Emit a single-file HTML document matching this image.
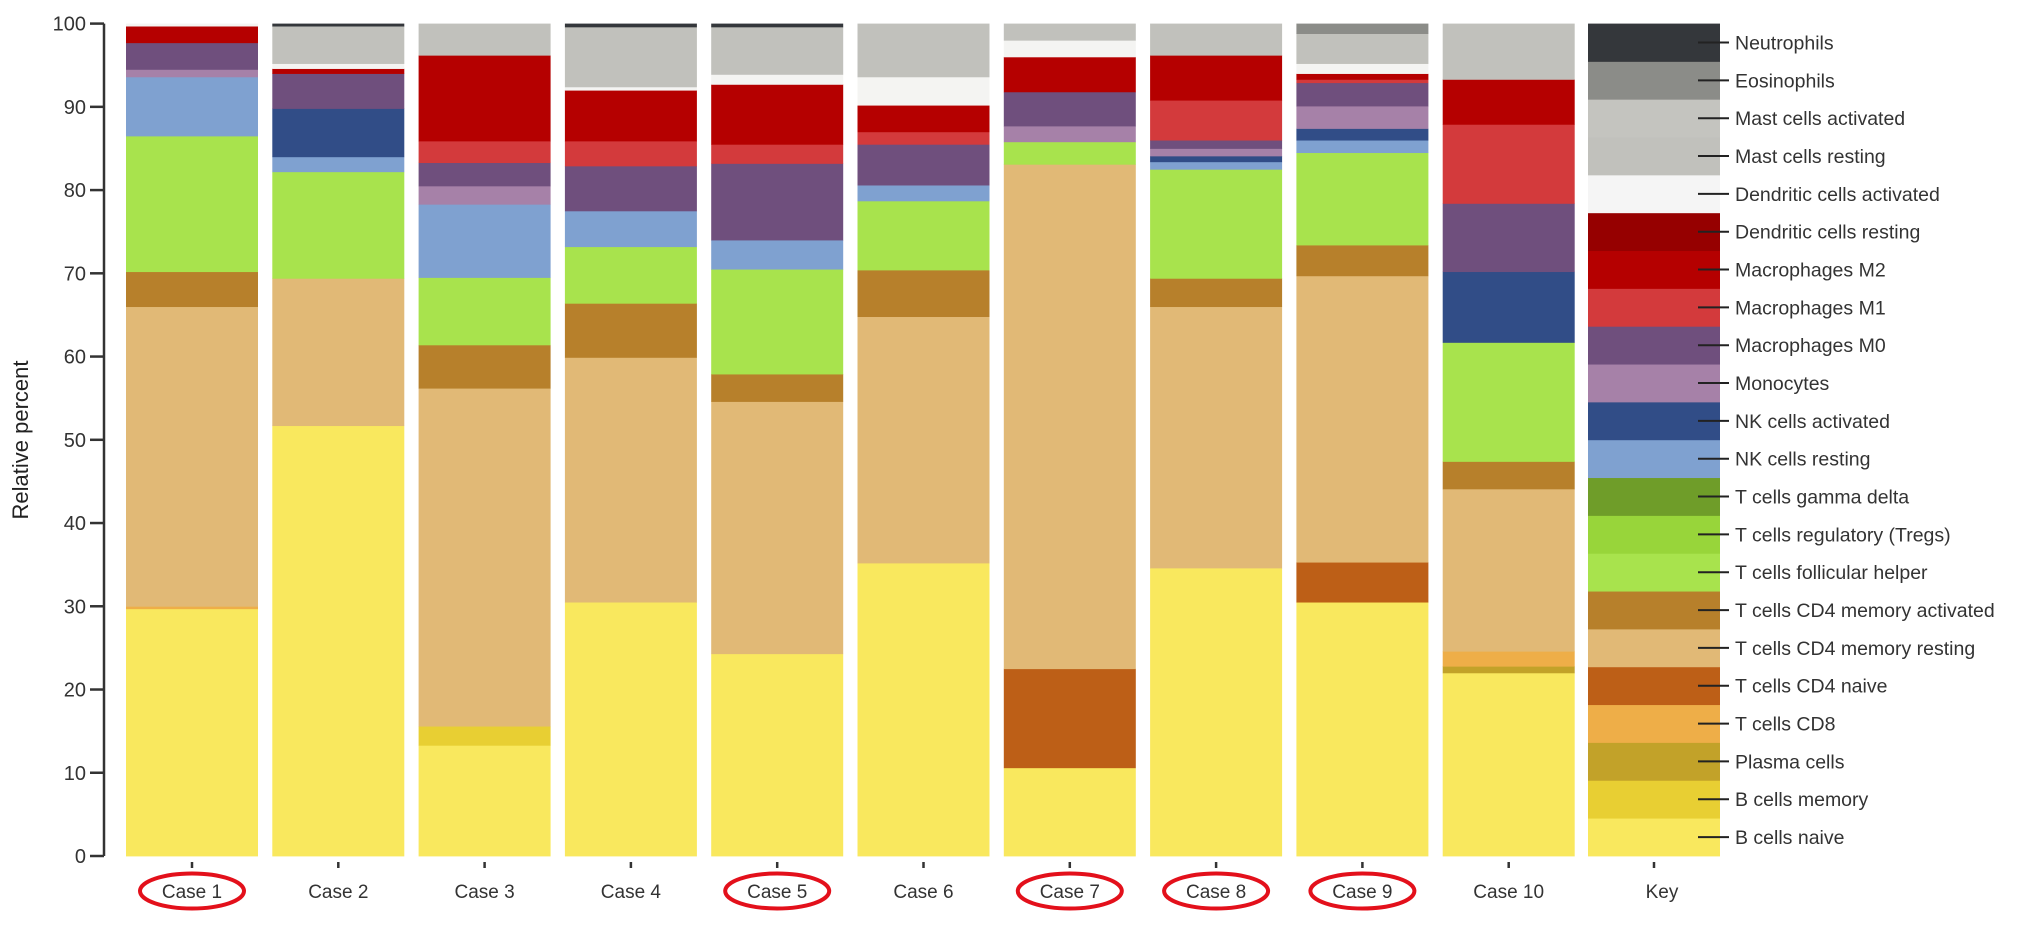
<!DOCTYPE html>
<html><head><meta charset="utf-8"><style>
html,body{margin:0;padding:0;background:#fff;}
svg{display:block;font-family:"Liberation Sans",Arial,sans-serif;}
</style></head><body>
<svg id="chart" width="2031" height="926" viewBox="0 0 2031 926" xmlns="http://www.w3.org/2000/svg"></svg>
<script>
const categories = ["Case 1","Case 2","Case 3","Case 4","Case 5","Case 6","Case 7","Case 8","Case 9","Case 10"];
const highlighted = [true,false,false,false,true,false,true,true,true,false];
const cellTypes = ["B cells naive","B cells memory","Plasma cells","T cells CD8","T cells CD4 naive","T cells CD4 memory resting","T cells CD4 memory activated","T cells follicular helper","T cells regulatory (Tregs)","T cells gamma delta","NK cells resting","NK cells activated","Monocytes","Macrophages M0","Macrophages M1","Macrophages M2","Dendritic cells resting","Dendritic cells activated","Mast cells resting","Mast cells activated","Eosinophils","Neutrophils"];
const cellColors = ["#f9e85e","#e8cf33","#c2a229","#eeae48","#bd5f17","#e1b976","#b7802b","#a8e34d","#98d53a","#6f9d29","#7fa1d0","#314d87","#a681a8","#6f4f7d","#d33a3c","#b50000","#960000","#f4f4f2","#c1c1bc","#c4c4bf","#8b8c88","#34373b"];
// values per case in order of cellTypes (percent)
const case1  = [29.7,0,0,0.3,0,36.0,4.2,16.3,0,0,7.1,0,0.9,3.2,0,2.0,0,0.3,0,0,0,0];
const case2  = [51.7,0,0,0,0,17.7,0,12.8,0,0,1.8,5.8,0,4.2,0,0.6,0,0.6,4.5,0,0,0.3];
const case3  = [13.3,2.3,0,0,0,40.6,5.2,8.1,0,0,8.8,0,2.2,2.8,2.6,10.3,0,0,3.8,0,0,0];
const case4  = [30.5,0,0,0,0,29.4,6.5,6.8,0,0,4.3,0,0,5.4,3.0,6.1,0,0.4,7.2,0,0,0.4];
const case5  = [24.3,0,0,0,0,30.3,3.3,12.6,0,0,3.5,0,0,9.2,2.3,7.2,0,1.2,5.7,0,0,0.4];
const case6  = [35.2,0,0,0,0,29.6,5.6,8.3,0,0,1.9,0,0,4.9,1.5,3.2,0,3.4,6.4,0,0,0];
const case7  = [10.6,0,0,0,11.9,60.6,0,2.7,0,0,0,0,1.9,4.1,0,4.2,0,2.0,2.0,0,0,0];
const case8  = [34.6,0,0,0,0,31.4,3.4,13.1,0,0,0.9,0.7,0.9,1.0,4.8,5.4,0,0,3.8,0,0,0];
const case9  = [30.5,0,0,0,4.8,34.4,3.7,11.1,0,0,1.5,1.4,2.7,2.8,0.4,0.7,0,1.2,3.6,0,1.2,0];
const case10 = [22.0,0,0.8,1.8,0,19.5,3.3,14.3,0,0,0,8.5,0,8.2,9.5,5.4,0,0,6.7,0,0,0];
const seriesValues = [case1,case2,case3,case4,case5,case6,case7,case8,case9,case10];
const yTicks = [0,10,20,30,40,50,60,70,80,90,100];

const NS = "http://www.w3.org/2000/svg";
const svg = document.getElementById("chart");
const y0 = 856, y100 = 23.6;
function yScale(v){ return y0 - (v/100)*(y0-y100); }
const barLeft0 = 126, pitch = 146.3, barW = 132;
function xScale(i){ return barLeft0 + i*pitch; }
function mk(tag, attrs, parent){
  const e = document.createElementNS(NS, tag);
  for (const k in attrs) e.setAttribute(k, attrs[k]);
  (parent||svg).appendChild(e);
  return e;
}

// y axis
const axis = mk("g", {});


mk("line", {x1:104, y1:yScale(100), x2:104, y2:y0, stroke:"#333", "stroke-width":2.5}, axis);
yTicks.forEach(t => {
  const y = yScale(t);
  mk("line", {x1:90, y1:y, x2:104, y2:y, stroke:"#333", "stroke-width":2.5}, axis);
  const tx = mk("text", {x:86, y:y+7, "text-anchor":"end", "font-size":20, fill:"#333"}, axis);
  tx.textContent = t;
  
  
});
const yt = mk("text", {x:0, y:0, transform:"translate(28,440) rotate(-90)", "text-anchor":"middle", "font-size":22, fill:"#222"});
yt.textContent = "Relative percent";



// bars
categories.forEach((cat, i) => {
  const g = mk("g", {});
  
  
  const x = xScale(i);
  let cum = 0;
  seriesValues[i].forEach((v, k) => {
    if (v <= 0) { return; }
    const top = yScale(cum + v), bot = yScale(cum);
    const r = mk("rect", {x:x, y:top, width:barW, height:bot-top+0.4, fill:cellColors[k]}, g);
    
    
    cum += v;
  });
  const cx = x + barW/2;
  mk("line", {x1:cx, y1:862, x2:cx, y2:868, stroke:"#333", "stroke-width":2.5}, g);
  const lbl = mk("text", {x:cx, y:898, "text-anchor":"middle", "font-size":19, fill:"#333"});
  lbl.textContent = cat;
  
  
  if (highlighted[i]) {
    const el = mk("ellipse", {cx:cx, cy:891, rx:52, ry:17.5, fill:"none", stroke:"#e3101b", "stroke-width":4});
    
    
  }
});

// key column
const keyX = 1588;
const key = mk("g", {});


const n = cellTypes.length;
const segH = (y0 - y100)/n;
cellTypes.forEach((name, k) => {
  const idx = n-1-k; // from top
  const top = y100 + idx*segH;
  const r = mk("rect", {x:keyX, y:top, width:barW, height:segH+0.4, fill: name==="Dendritic cells activated" ? "#f5f5f5" : cellColors[k]}, key);
  
  
  const cy = top + segH/2;
  mk("line", {x1:1698, y1:cy, x2:1729, y2:cy, stroke:"#222", "stroke-width":2}, key);
  const t = mk("text", {x:1735, y:cy+7, "font-size":19.5, fill:"#333"}, key);
  t.textContent = name;
  
  
});
const kx = keyX + barW/2;
mk("line", {x1:kx, y1:862, x2:kx, y2:868, stroke:"#333", "stroke-width":2.5});
const kl = mk("text", {x:kx+8, y:898, "text-anchor":"middle", "font-size":19, fill:"#333"});
kl.textContent = "Key";


</script>
</body></html>
